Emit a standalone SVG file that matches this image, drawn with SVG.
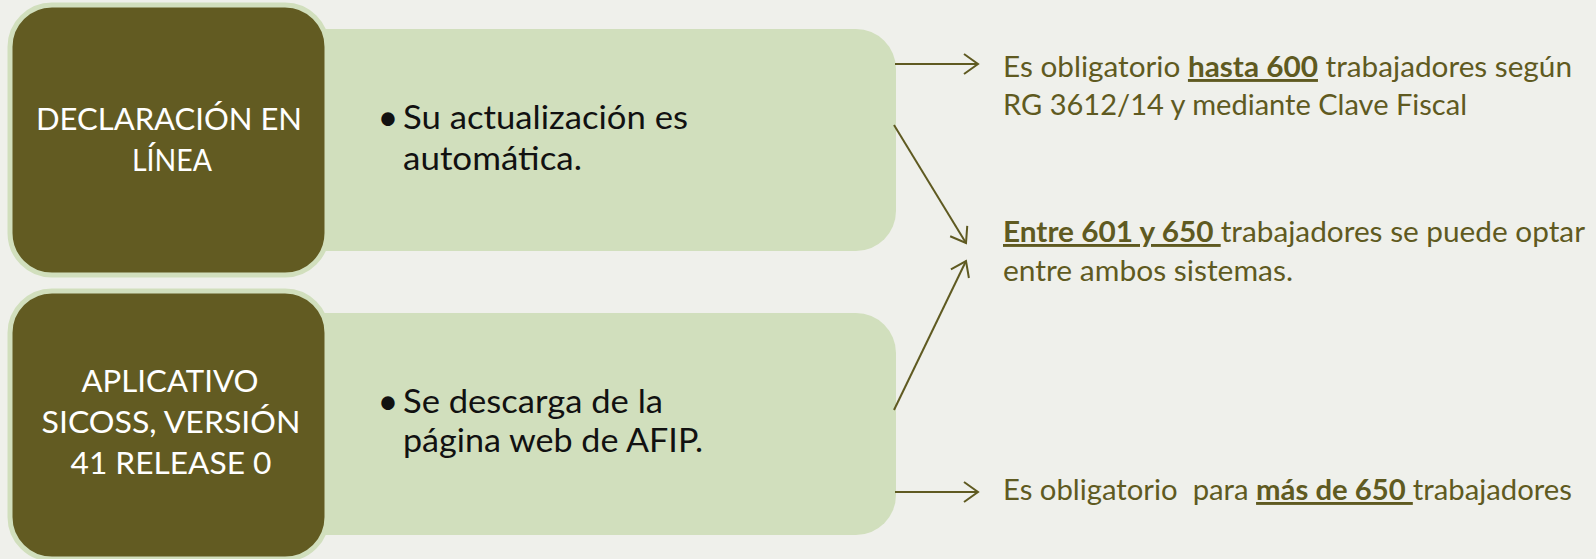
<svg xmlns="http://www.w3.org/2000/svg" width="1596" height="559" viewBox="0 0 1596 559">
<style>
.bg{fill:#EFF0EB}
.light{fill:#D1DFBD}
.dark{fill:#625B22;stroke:#D1DFBD;stroke-width:5}
.wt{font-family:Lato,"Open Sans",sans-serif;font-size:31px;fill:#FFFFFF;text-anchor:middle}
.bt{font-family:Lato,"Open Sans",sans-serif;font-size:33px;fill:#111111}
.bu{font-family:Lato,"Open Sans",sans-serif;font-size:36px;fill:#111111;text-anchor:middle}
.rt{font-family:Lato,"Open Sans",sans-serif;font-size:29px;fill:#5F5A21}
.b{font-weight:bold;text-decoration:underline}
.conn{stroke:#5F5A21;stroke-width:2;fill:none}
</style>
<defs>
<marker id="arr" markerUnits="userSpaceOnUse" markerWidth="22" markerHeight="24" refX="16" refY="11" orient="auto">
<path d="M2,1 L16,11 L2,21" fill="none" stroke="#5F5A21" stroke-width="2"/>
</marker>
</defs>
<rect class="bg" x="0" y="0" width="1596" height="559"/>
<g id="detail-top">
<rect class="light" x="280" y="29" width="616" height="222" rx="40"/>
<text class="bu" x="388" y="130">•</text>
<text class="bt" x="403" y="129" textLength="285" lengthAdjust="spacingAndGlyphs">Su actualización es</text>
<text class="bt" x="403" y="170" textLength="179" lengthAdjust="spacingAndGlyphs">automática.</text>
</g>
<g id="detail-bottom">
<rect class="light" x="280" y="313" width="616" height="222" rx="40"/>
<text class="bu" x="388" y="414">•</text>
<text class="bt" x="403" y="413" textLength="260" lengthAdjust="spacingAndGlyphs">Se descarga de la</text>
<text class="bt" x="403" y="452" textLength="300" lengthAdjust="spacingAndGlyphs">página web de AFIP.</text>
</g>
<g id="node-declaracion">
<rect class="dark" x="10" y="5" width="317" height="270" rx="42"/>
<text class="wt" x="169" y="130" textLength="266" lengthAdjust="spacingAndGlyphs">DECLARACIÓN EN</text>
<text class="wt" x="172" y="171" textLength="80" lengthAdjust="spacingAndGlyphs">LÍNEA</text>
</g>
<g id="node-aplicativo">
<rect class="dark" x="10" y="291" width="317" height="268" rx="42"/>
<text class="wt" x="170" y="392" textLength="177" lengthAdjust="spacingAndGlyphs">APLICATIVO</text>
<text class="wt" x="171" y="433" textLength="259" lengthAdjust="spacingAndGlyphs">SICOSS, VERSIÓN</text>
<text class="wt" x="171" y="474" textLength="201" lengthAdjust="spacingAndGlyphs">41 RELEASE 0</text>
</g>
<g id="connectors">
<line class="conn" x1="895" y1="64" x2="978" y2="64" marker-end="url(#arr)"/>
<line class="conn" x1="894" y1="125" x2="966" y2="243" marker-end="url(#arr)"/>
<line class="conn" x1="894" y1="410" x2="966" y2="261" marker-end="url(#arr)"/>
<line class="conn" x1="895" y1="492" x2="978" y2="492" marker-end="url(#arr)"/>
</g>
<g id="note-hasta600">
<text class="rt" x="1003" y="77" textLength="569" lengthAdjust="spacingAndGlyphs">Es obligatorio <tspan class="b">hasta 600</tspan> trabajadores según</text>
<text class="rt" x="1003" y="115" textLength="464" lengthAdjust="spacingAndGlyphs">RG 3612/14 y mediante Clave Fiscal</text>
</g>
<g id="note-entre">
<text class="rt" x="1003" y="242" textLength="582" lengthAdjust="spacingAndGlyphs"><tspan class="b">Entre 601 y 650 </tspan>trabajadores se puede optar</text>
<text class="rt" x="1003" y="281" textLength="290" lengthAdjust="spacingAndGlyphs">entre ambos sistemas.</text>
</g>
<g id="note-mas650">
<text class="rt" x="1003" y="500" textLength="569" lengthAdjust="spacingAndGlyphs" xml:space="preserve">Es obligatorio  para <tspan class="b">más de 650 </tspan>trabajadores</text>
</g>
</svg>
